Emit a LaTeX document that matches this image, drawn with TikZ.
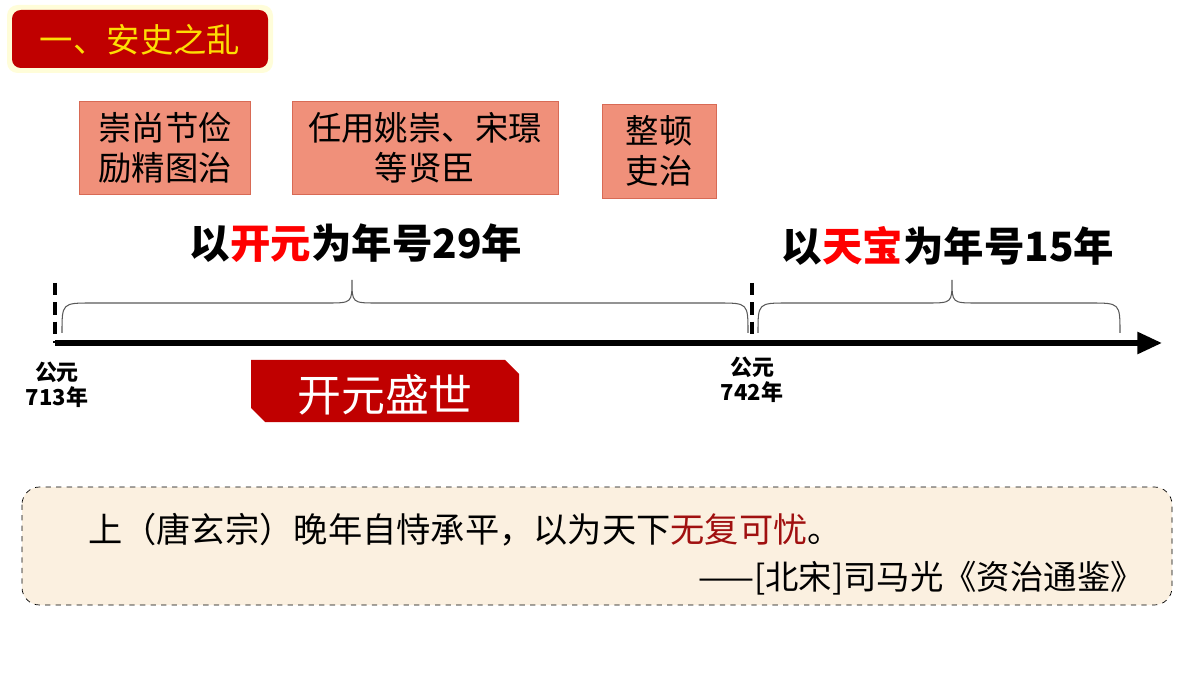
\documentclass[tikz,border=0pt]{standalone}
\usepackage{fontspec}
\setmainfont{Noto Sans CJK SC}
\usetikzlibrary{arrows.meta}
\definecolor{titlered}{HTML}{C00000}
\definecolor{boxfill}{HTML}{F0907A}
\definecolor{boxline}{HTML}{D86A55}
\definecolor{quotefill}{HTML}{FBF0E0}
\definecolor{darkred}{HTML}{A01010}
\begin{document}
\begin{tikzpicture}[x=0.02cm,y=-0.02cm,
    deed/.style={draw=boxline,fill=boxfill,align=center,font=\fontsize{19}{23}\selectfont,inner sep=0pt},
    era/.style={font=\bfseries\fontsize{23}{27}\selectfont},
    year/.style={font=\bfseries\fontsize{12.5}{14}\selectfont,align=center},
    tick/.style={line width=2pt,dash pattern=on 7pt off 4pt}]
  \useasboundingbox (0,0) rectangle (1200,675);
  % title
  \fill[yellow!15,rounded corners=6pt] (7,5) rectangle (273,73);
  \fill[titlered,rounded corners=5pt] (12,10) rectangle (268,68);
  \node[text=yellow!80!orange,font=\fontsize{19}{22}\selectfont] (title) at (140,40) {一、安史之乱};
  % deeds
  \node[deed,minimum width=171*0.02cm,minimum height=93*0.02cm] (deed1) at (165,148) {崇尚节俭\\励精图治};
  \node[deed,minimum width=266*0.02cm,minimum height=93*0.02cm] (deed2) at (425,148) {任用姚崇、宋璟\\等贤臣};
  \node[deed,minimum width=114*0.02cm,minimum height=94*0.02cm] (deed3) at (659,151) {整顿\\吏治};
  % eras
  \node[era] (kaiyuan) at (356,243) {以\textcolor{red}{开元}为年号29年};
  \node[era] (tianbao) at (948,246) {以\textcolor{red}{天宝}为年号15年};
  % axis
  \coordinate (start) at (55,343);
  \coordinate (end) at (1162,343);
  \draw[line width=3pt,-{Triangle[length=14pt,width=12pt]}] (start) -- (end);
  \draw[tick] (55,283) -- (start);
  \draw[tick] (752,283) -- (752,343);
  % braces
  \draw[gray!70!black,line width=0.6pt] (62,333) .. controls (62,303) .. (92,303) -- (327,303)
    .. controls (352,303) .. (352,280) .. controls (352,303) .. (377,303) -- (718,303)
    .. controls (748,303) .. (748,333);
  \draw[gray!70!black,line width=0.6pt] (758,333) .. controls (758,303) .. (788,303) -- (927,303)
    .. controls (952,303) .. (952,280) .. controls (952,303) .. (977,303) -- (1090,303)
    .. controls (1120,303) .. (1120,333);
  \node[year] (y713) at (57,385) {公元\\713年};
  \node[year] (y742) at (752,380) {公元\\742年};
  % banner
  \fill[titlered] (251,360) -- (505,360) -- (519,374) -- (519,422) -- (265,422) -- (251,408) -- cycle;
  \node[text=white,font=\fontsize{25}{28}\selectfont] (shengshi) at (385,395) {开元盛世};
  % quote
  \draw[dashed,fill=quotefill,rounded corners=10pt] (22,487) rectangle (1172,605);
  \node[anchor=west,font=\fontsize{19.5}{22}\selectfont] (quote) at (82,530)
    {上（唐玄宗）晚年自恃承平，以为天下\textcolor{darkred}{无复可忧}。};
  \node[anchor=east,font=\fontsize{19}{22}\selectfont] (source) at (1150,578)
    {——[北宋]司马光《资治通鉴》};
\end{tikzpicture}
\end{document}
